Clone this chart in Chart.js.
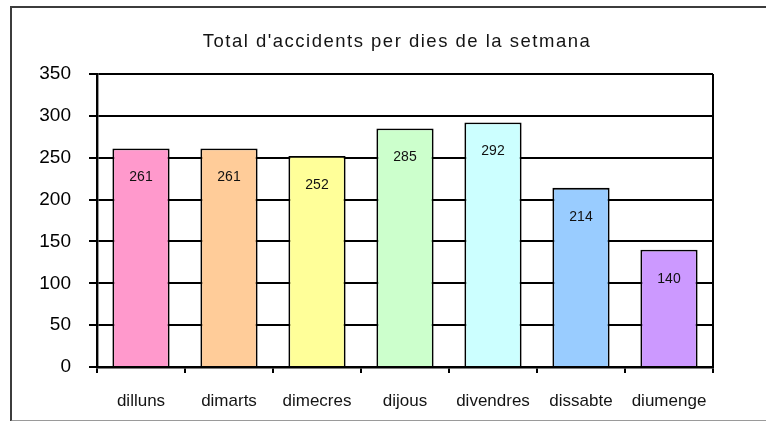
<!DOCTYPE html>
<html>
<head>
<meta charset="utf-8">
<script src="https://cdn.jsdelivr.net/npm/chart.js@4.4.1/dist/chart.umd.min.js"></script>
<style>
  html, body { margin: 0; padding: 0; background: #fff; overflow: hidden; }
  #wrap { position: relative; width: 766px; height: 421px; }
  #frame { position: absolute; left: 10px; top: 6px; width: 800px; height: 412px;
           border-left: 2px solid #3c3c3c; border-top: 2px solid #3c3c3c; border-bottom: 2px solid #9a9a9a;
           pointer-events: none; }
  canvas { position: absolute; left: 0; top: 0; }
</style>
</head>
<body>
<div id="wrap">
  <canvas id="c" width="766" height="421"></canvas>
  <div id="frame"></div>
</div>
<script>
const chartTitle = "Total d'accidents per dies de la setmana";
const categories = ["dilluns", "dimarts", "dimecres", "dijous", "divendres", "dissabte", "diumenge"];
const accidents = [261, 261, 252, 285, 292, 214, 140];
const barColors = ["#FF99CC", "#FFCC99", "#FFFF99", "#CCFFCC", "#CCFFFF", "#99CCFF", "#CC99FF"];
const yTicks = [0, 50, 100, 150, 200, 250, 300, 350];

const titlePlugin = {
  id: 'customTitle',
  afterDraw(chart) {
    const ctx = chart.ctx;
    ctx.save();
    ctx.font = '18.5px Arial, "Liberation Sans", sans-serif';
    ctx.fillStyle = '#141414';
    ctx.textAlign = 'center';
    ctx.textBaseline = 'middle';
    try { ctx.letterSpacing = '1.5px'; } catch (e) {}
    ctx.fillText(chartTitle, 397, 42);
    ctx.restore();
  }
};

const framePlugin = {
  id: 'plotFrame',
  beforeDatasetsDraw(chart) {
    const a = chart.chartArea, ctx = chart.ctx;
    ctx.save();
    ctx.strokeStyle = '#000';
    ctx.lineWidth = 2;
    ctx.beginPath();
    ctx.moveTo(a.right, a.top);
    ctx.lineTo(a.right, a.bottom);
    ctx.stroke();
    ctx.restore();
  }
};

const valueLabels = {
  id: 'valueLabels',
  afterDatasetsDraw(chart) {
    const ctx = chart.ctx;
    const meta = chart.getDatasetMeta(0);
    ctx.save();
    ctx.font = '14px Arial, "Liberation Sans", sans-serif';
    ctx.fillStyle = '#111';
    ctx.textAlign = 'center';
    ctx.textBaseline = 'middle';
    meta.data.forEach((el, i) => {
      ctx.fillText(String(accidents[i]), el.x, el.y + 29);
    });
    ctx.restore();
  }
};

new Chart(document.getElementById('c'), {
  type: 'bar',
  data: {
    labels: categories,
    datasets: [{
      data: accidents,
      backgroundColor: barColors,
      borderColor: '#000',
      borderWidth: 1.8,
      categoryPercentage: 1,
      barPercentage: 0.65
    }]
  },
  options: {
    responsive: false,
    animation: false,
    devicePixelRatio: 1,
    layout: { padding: { top: 74, right: 53, left: 0, bottom: 0 } },
    plugins: { legend: { display: false }, title: { display: false }, tooltip: { enabled: false } },
    scales: {
      x: {
        afterFit(s) { s.height = 54; },
        grid: { display: true, drawOnChartArea: false, drawTicks: true, tickLength: 6, color: '#000', lineWidth: 2, offset: true },
        border: { display: true, color: '#000', width: 2.4 },
        ticks: { color: '#141414', font: { family: 'Arial, "Liberation Sans", sans-serif', size: 17 }, padding: 18, maxRotation: 0, autoSkip: false }
      },
      y: {
        min: 0, max: 350,
        afterFit(s) { s.width = 97; },
        afterBuildTicks(s) { s.ticks = yTicks.map(v => ({ value: v })); },
        grid: { color: '#000', lineWidth: 2, drawTicks: true, tickLength: 8 },
        border: { display: true, color: '#000', width: 2.4 },
        ticks: { color: '#000', font: { family: 'Arial, "Liberation Sans", sans-serif', size: 19 }, padding: 18 }
      }
    }
  },
  plugins: [titlePlugin, framePlugin, valueLabels]
});
</script>
</body>
</html>
